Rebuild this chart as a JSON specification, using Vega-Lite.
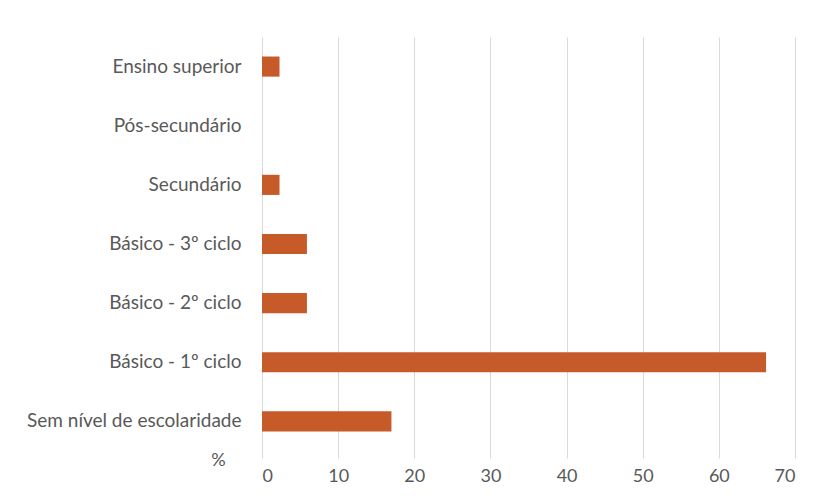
{
  "$schema": "https://vega.github.io/schema/vega-lite/v6.json",
  "width": 533,
  "height": 414,
  "autosize": {"type": "none"},
  "padding": {"left": 262, "top": 37, "right": 23, "bottom": 47},
  "background": "white",
  "data": {
    "values": [
      {"nivel": "Ensino superior", "pct": 2.3},
      {"nivel": "Pós-secundário", "pct": 0},
      {"nivel": "Secundário", "pct": 2.3},
      {"nivel": "Básico - 3º ciclo", "pct": 5.9},
      {"nivel": "Básico - 2º ciclo", "pct": 5.9},
      {"nivel": "Básico - 1º ciclo", "pct": 66.2},
      {"nivel": "Sem nível de escolaridade", "pct": 17.0}
    ]
  },
  "mark": {"type": "bar", "color": "#C65A28"},
  "encoding": {
    "y": {
      "field": "nivel",
      "type": "nominal",
      "sort": null,
      "scale": {"paddingInner": 0.66, "paddingOuter": 0.33},
      "axis": {
        "title": null,
        "domain": false,
        "ticks": false,
        "labelPadding": 21,
        "labelLimit": 400,
        "labelFont": "Lato",
        "labelFontSize": 19,
        "labelColor": "#595959",
        "grid": false
      }
    },
    "x": {
      "field": "pct",
      "type": "quantitative",
      "scale": {"domain": [0, 70], "nice": false},
      "axis": {
        "values": [0, 10, 20, 30, 40, 50, 60, 70],
        "title": "%",
        "titleFont": "Lato",
        "titleFontSize": 18,
        "titleFontWeight": "normal",
        "titleColor": "#595959",
        "titleAngle": 0,
        "titleX": -44,
        "titleY": 9,
        "titleAlign": "center",
        "titleBaseline": "middle",
        "domain": false,
        "ticks": true,
        "tickSize": 7,
        "tickColor": "#D9D9D9",
        "tickWidth": 1,
        "labelPadding": 9,
        "labelFont": "Lato",
        "labelFontSize": 18,
        "labelColor": "#595959",
        "grid": true,
        "gridColor": "#D9D9D9",
        "gridWidth": 1
      }
    }
  },
  "config": {"view": {"stroke": null}}
}
